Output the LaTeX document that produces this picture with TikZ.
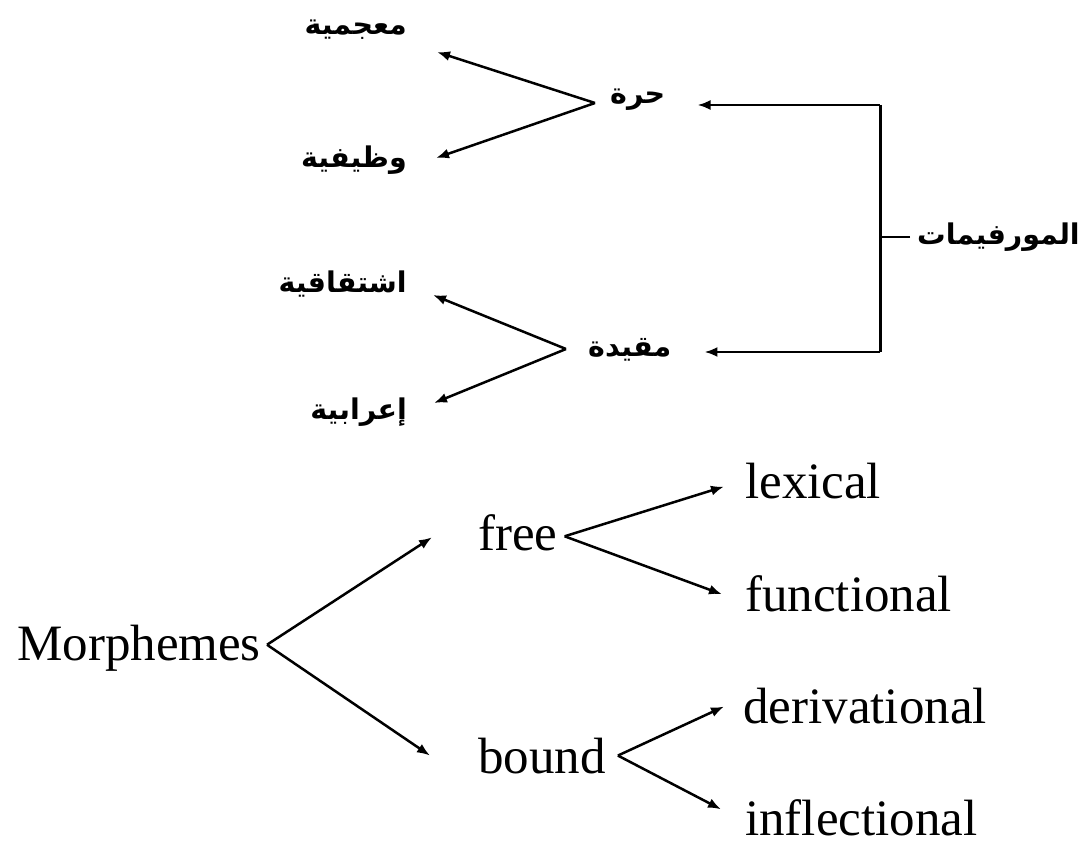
\documentclass[tikz,border=0pt]{standalone}
\usepackage{fontspec}
\setmainfont{Liberation Serif}
\newfontfamily\arabicfont[Script=Arabic]{DejaVu Sans}
\TeXXeTstate=1
\usetikzlibrary{arrows.meta}
\tikzset{
  link/.style={line width=2.5pt},
  arr/.style={link,-{Latex[length=13pt,width=10pt]}},
  en/.style={inner sep=0pt, anchor=base west, font=\fontsize{51}{60}\selectfont},
  ar/.style={inner sep=0pt, font=\fontsize{28.5}{34}\selectfont\arabicfont\bfseries},
}
\begin{document}
\begin{tikzpicture}[x=1pt,y=-1pt]
\useasboundingbox (0,0) rectangle (1085,845);

% ---- Arabic tree (right to left) ----
\node[ar,anchor=west] (murf) at (917,237) {\beginR المورفيمات\endR};
\node[ar,anchor=west] (hurra) at (610,100) {\beginR حرة\endR};
\node[ar,anchor=west] (muq) at (588,350) {\beginR مقيدة\endR};
\node[ar,anchor=east] (muj) at (407,30) {\beginR معجمية\endR};
\node[ar,anchor=east] (wz) at (407,160) {\beginR وظيفية\endR};
\node[ar,anchor=east] (ish) at (407,284) {\beginR اشتقاقية\endR};
\node[ar,anchor=east] (irab) at (407,412) {\beginR إعرابية\endR};

% bracket joining the two branches
\coordinate (br-mid) at ([xshift=-37pt]murf.west);
\coordinate (br-top) at (880,105);
\coordinate (br-bot) at (880,352);
\coordinate (hurra-in) at ([xshift=32pt]hurra.east);
\coordinate (muq-in) at ([xshift=33pt]muq.east);
\draw[link] ([xshift=-7pt]murf.west) -- (br-mid);
\draw[link,line width=3pt] (br-top) -- (br-bot);
\draw[arr] (br-top) -- (br-top -| hurra-in);
\draw[arr] (br-bot) -- (br-bot -| muq-in);

% split points and arrow ends of the Arabic sub-branches
\coordinate (hurra-s) at ([xshift=-15pt,yshift=-3pt]hurra.west);
\coordinate (muq-s) at ([xshift=-22pt,yshift=1pt]muq.west);
\coordinate (muj-in) at ([xshift=30pt,yshift=-22pt]muj.east);
\coordinate (wz-in) at ([xshift=29pt,yshift=2pt]wz.east);
\coordinate (ish-in) at ([xshift=26pt,yshift=-11pt]ish.east);
\coordinate (irab-in) at ([xshift=27pt,yshift=9pt]irab.east);
\draw[arr] (hurra-s) -- (muj-in);
\draw[arr] (hurra-s) -- (wz-in);
\draw[arr] (muq-s) -- (ish-in);
\draw[arr] (muq-s) -- (irab-in);

% ---- English tree ----
\node[en] (morph) at (17,660) {Morphemes};
\node[en] (free) at (478,550) {free};
\node[en] (bound) at (478,773) {bound};
\node[en] (lex) at (745,498) {lexical};
\node[en] (fun) at (745,611) {functional};
\node[en] (der) at (743,723) {derivational};
\node[en] (inf) at (745,835) {inflectional};

\coordinate (morph-s) at ([xshift=6pt,yshift=3pt]morph.east);
\coordinate (free-s) at ([xshift=7pt,yshift=-4pt]free.east);
\coordinate (bound-s) at ([xshift=12pt]bound.east);

\coordinate (free-in) at ([xshift=-46pt,yshift=-5pt]free.west);
\coordinate (bound-in) at ([xshift=-48pt]bound.west);
\coordinate (lex-in) at ([xshift=-21pt,yshift=-6pt]lex.west);
\coordinate (fun-in) at ([xshift=-23pt,yshift=-1pt]fun.west);
\coordinate (der-in) at ([xshift=-19pt,yshift=-1pt]der.west);
\coordinate (inf-in) at ([xshift=-24pt,yshift=8pt]inf.west);

\draw[arr] (morph-s) -- (free-in);
\draw[arr] (morph-s) -- (bound-in);
\draw[arr] (free-s) -- (lex-in);
\draw[arr] (free-s) -- (fun-in);
\draw[arr] (bound-s) -- (der-in);
\draw[arr] (bound-s) -- (inf-in);
\end{tikzpicture}
\end{document}
